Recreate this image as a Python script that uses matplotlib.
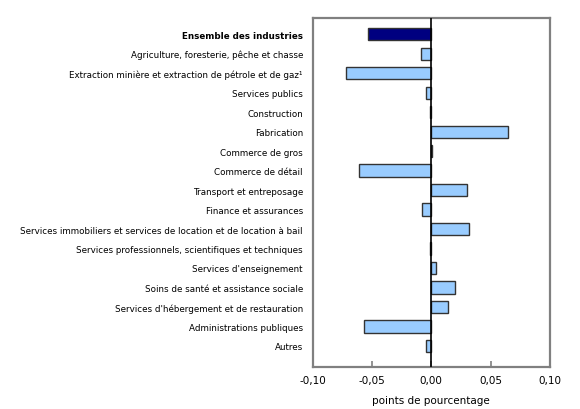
import numpy as np
import matplotlib
matplotlib.use('Agg')
import matplotlib.pyplot as plt
from matplotlib.ticker import FuncFormatter

industries = [
    'Ensemble des industries',
    'Agriculture, foresterie, pêche et chasse',
    'Extraction minière et extraction de pétrole et de gaz¹',
    'Services publics',
    'Construction',
    'Fabrication',
    'Commerce de gros',
    'Commerce de détail',
    'Transport et entreposage',
    'Finance et assurances',
    'Services immobiliers et services de location et de location à bail',
    'Services professionnels, scientifiques et techniques',
    "Services d'enseignement",
    'Soins de santé et assistance sociale',
    "Services d'hébergement et de restauration",
    'Administrations publiques',
    'Autres',
]
valeurs = [-0.053, -0.009, -0.072, -0.004, -0.001, 0.065, 0.001, -0.061, 0.030,
           -0.008, 0.032, -0.001, 0.004, 0.020, 0.014, -0.057, -0.004]

couleurs = ['#000080'] + ['#99ccff'] * (len(valeurs) - 1)

fig = plt.figure(figsize=(5.8, 4.1), dpi=100)
ax = fig.add_axes([0.539, 0.1024, 0.409, 0.851])

y = np.arange(len(industries))
ax.barh(y, valeurs, height=0.62, color=couleurs, edgecolor='#333333', linewidth=1.0, zorder=2)
ax.axvline(0, color='black', linewidth=1.2, zorder=3)

ax.set_xlim(-0.10, 0.10)
ax.set_ylim(len(industries) - 1 + 1.08, -0.82)
ax.set_xticks([-0.10, -0.05, 0.0, 0.05, 0.10])
ax.xaxis.set_major_formatter(FuncFormatter(lambda v, p: f'{v:.2f}'.replace('.', ',')))
ax.set_yticks(y)
ax.set_yticklabels(industries)
for lbl in ax.get_yticklabels():
    if lbl.get_text() == 'Ensemble des industries':
        lbl.set_fontweight('bold')

ax.tick_params(axis='y', length=0, pad=7, labelsize=6.3)
ax.tick_params(axis='x', direction='in', length=4, width=1.2, color='#808080', labelsize=7.5, pad=6)
for s in ax.spines.values():
    s.set_color('#808080')
    s.set_linewidth(1.6)

ax.set_xlabel('points de pourcentage', fontsize=7.5, labelpad=7)

fig.savefig('out.png', dpi=100)
